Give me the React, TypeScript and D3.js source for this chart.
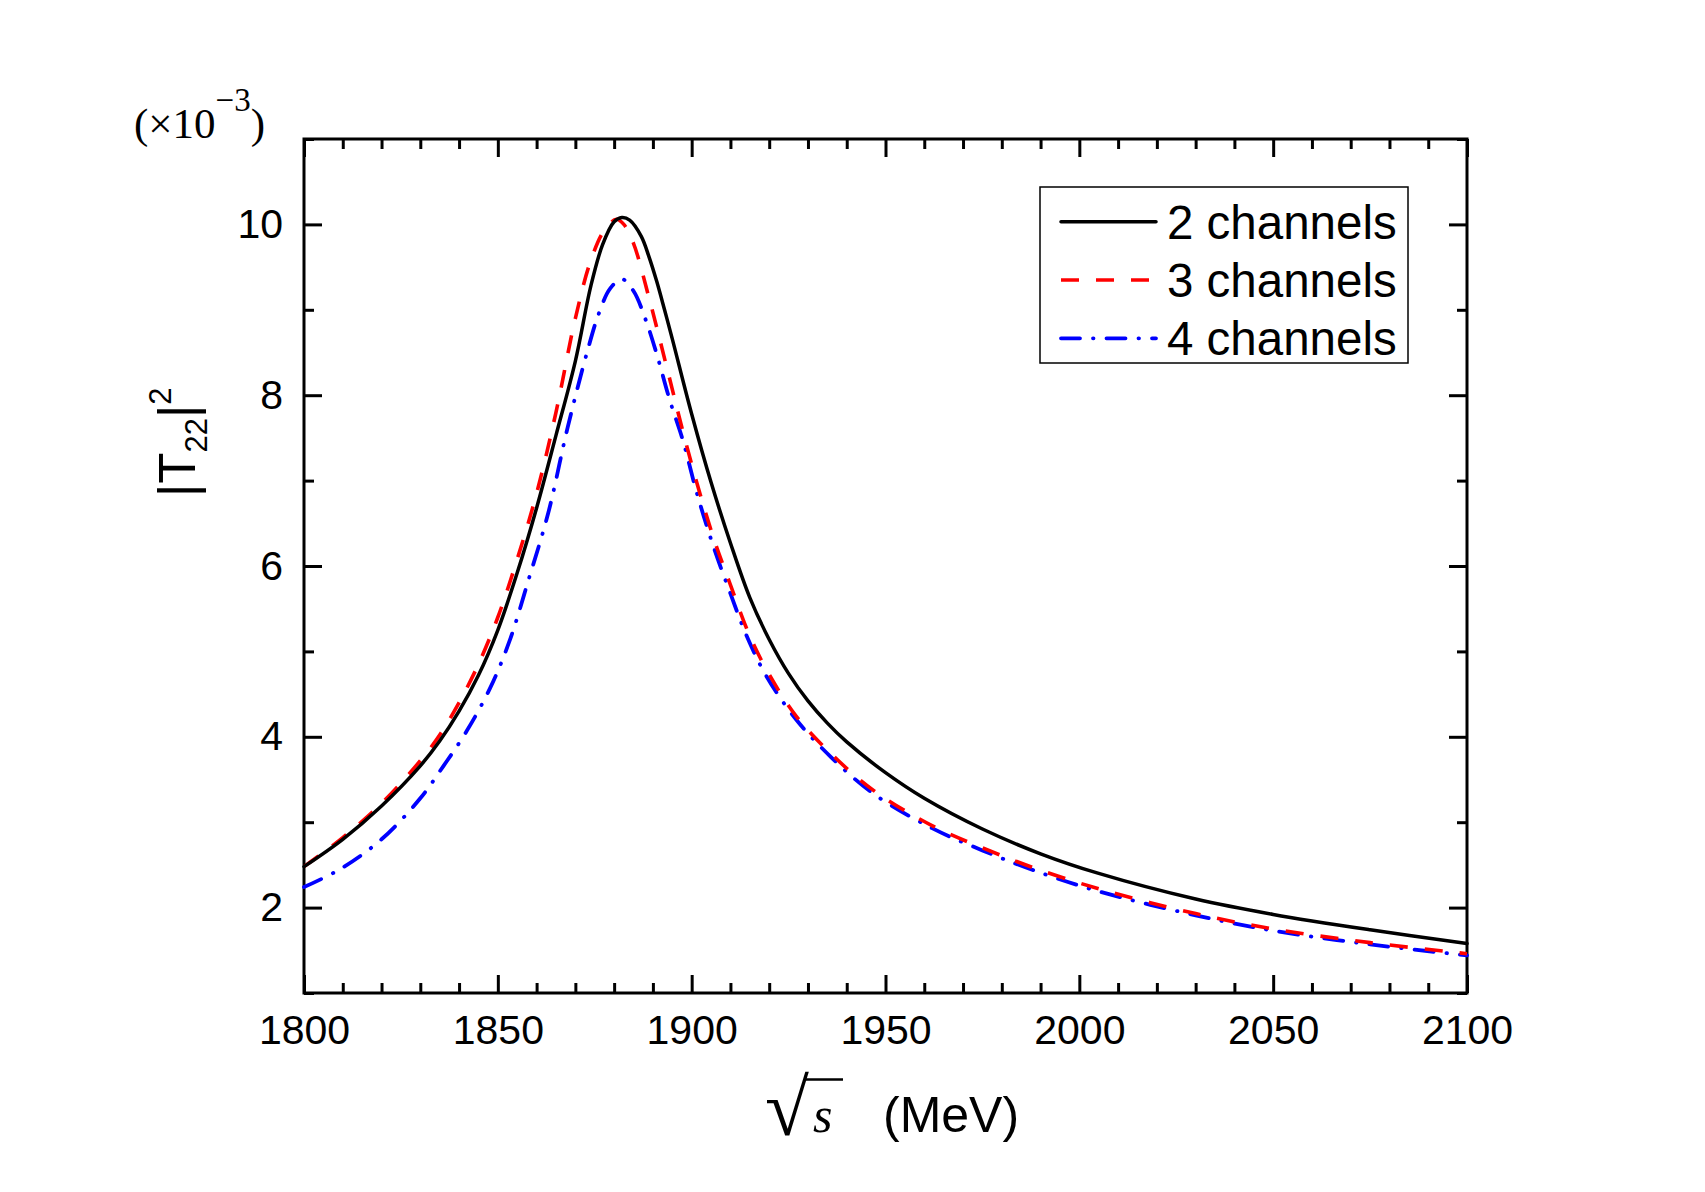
import * as d3 from 'd3';
import React, { useEffect, useRef } from 'react';

// sqrt(s) in MeV, |T22|^2 in units of 1e-3
const x2 = [1800, 1810, 1820, 1830, 1835, 1840, 1845, 1850, 1855, 1860, 1865, 1870, 1874, 1877, 1880, 1882, 1884, 1887, 1889, 1891, 1893, 1895, 1900, 1905, 1910, 1915, 1920, 1925, 1930, 1935, 1940, 1950, 1960, 1975, 1990, 2005, 2030, 2050, 2075, 2100];
const y2 = [2.48, 2.80, 3.19, 3.66, 3.95, 4.30, 4.72, 5.25, 5.92, 6.68, 7.53, 8.40, 9.28, 9.76, 10.03, 10.08, 10.05, 9.86, 9.62, 9.33, 9.00, 8.66, 7.78, 6.98, 6.27, 5.63, 5.14, 4.74, 4.42, 4.16, 3.94, 3.58, 3.28, 2.92, 2.63, 2.40, 2.10, 1.92, 1.74, 1.58];

const x3 = [1800, 1810, 1820, 1830, 1835, 1840, 1845, 1850, 1855, 1860, 1865, 1870, 1874, 1877.6, 1880.6, 1882.5, 1884.9, 1889, 1894, 1898, 1902, 1906, 1910, 1915, 1920, 1927, 1936, 1947, 1962, 1975, 1988, 2005, 2030, 2050, 2075, 2100];
const y3 = [2.48, 2.82, 3.22, 3.72, 4.02, 4.40, 4.85, 5.40, 6.08, 6.85, 7.80, 8.90, 9.58, 9.94, 10.06, 10.00, 9.79, 9.14, 8.25, 7.53, 6.87, 6.28, 5.78, 5.18, 4.73, 4.24, 3.80, 3.37, 2.96, 2.70, 2.47, 2.22, 1.93, 1.75, 1.59, 1.46];

const x4 = [1800, 1809.3, 1820, 1830, 1836, 1842, 1848, 1853, 1858, 1863, 1868, 1873, 1876, 1879, 1882, 1885, 1888, 1891, 1894.3, 1897.8, 1901.3, 1905.6, 1909.9, 1914.2, 1919.4, 1927, 1936, 1947, 1962, 1975, 1988, 2005, 2030, 2050, 2075, 2100];
const y4 = [2.24, 2.45, 2.80, 3.28, 3.66, 4.07, 4.57, 5.12, 5.85, 6.62, 7.62, 8.50, 8.95, 9.25, 9.36, 9.22, 8.90, 8.48, 7.95, 7.46, 6.86, 6.23, 5.69, 5.18, 4.70, 4.20, 3.76, 3.33, 2.93, 2.67, 2.44, 2.19, 1.91, 1.73, 1.57, 1.44];

const seriesNames = ['2 channels', '3 channels', '4 channels'];
const xMajor = [1800, 1850, 1900, 1950, 2000, 2050, 2100];
const yMajor = [2, 4, 6, 8, 10];

const App = () => {
    const svgRef = useRef(null);

    useEffect(() => {
        const svg = d3.select(svgRef.current);
        svg.selectAll('*').remove();

        const left = 304, right = 1467, top = 139, bottom = 993;
        const x = d3.scaleLinear().domain([1800, 2100]).range([left, right]);
        const y = d3.scaleLinear().domain([1, 11]).range([bottom, top]);
        const font = 'Liberation Sans, Arial, Helvetica, sans-serif';
        const serif = 'Liberation Serif, Times New Roman, serif';

        const xMinor = d3.range(1800, 2101, 10).filter(v => v % 50 !== 0);
        const yMinor = d3.range(1, 12, 2);

        const styleAxis = (g, labels) => {
            g.select('.domain').remove();
            g.selectAll('line').attr('stroke', '#000').attr('stroke-width', 3);
            g.selectAll('text').attr('font-family', font).attr('font-size', 41).attr('fill', '#000');
            if (!labels) g.selectAll('text').remove();
        };

        // bottom / top
        svg.append('g').attr('transform', `translate(0,${bottom})`)
            .call(d3.axisBottom(x).tickValues(xMajor).tickSize(-18).tickPadding(22).tickFormat(d3.format('d')))
            .call(g => styleAxis(g, true));
        svg.append('g').attr('transform', `translate(0,${bottom})`)
            .call(d3.axisBottom(x).tickValues(xMinor).tickSize(-10))
            .call(g => styleAxis(g, false));
        svg.append('g').attr('transform', `translate(0,${top})`)
            .call(d3.axisTop(x).tickValues(xMajor).tickSize(-18))
            .call(g => styleAxis(g, false));
        svg.append('g').attr('transform', `translate(0,${top})`)
            .call(d3.axisTop(x).tickValues(xMinor).tickSize(-10))
            .call(g => styleAxis(g, false));

        // left / right
        svg.append('g').attr('transform', `translate(${left},0)`)
            .call(d3.axisLeft(y).tickValues(yMajor).tickSize(-18).tickPadding(21))
            .call(g => styleAxis(g, true));
        svg.append('g').attr('transform', `translate(${left},0)`)
            .call(d3.axisLeft(y).tickValues(yMinor).tickSize(-10))
            .call(g => styleAxis(g, false));
        svg.append('g').attr('transform', `translate(${right},0)`)
            .call(d3.axisRight(y).tickValues(yMajor).tickSize(-18))
            .call(g => styleAxis(g, false));
        svg.append('g').attr('transform', `translate(${right},0)`)
            .call(d3.axisRight(y).tickValues(yMinor).tickSize(-10))
            .call(g => styleAxis(g, false));

        svg.append('rect')
            .attr('x', left).attr('y', top)
            .attr('width', right - left).attr('height', bottom - top)
            .attr('fill', 'none').attr('stroke', '#000').attr('stroke-width', 3);

        const line = d3.line()
            .x(d => x(d[0]))
            .y(d => y(d[1]))
            .curve(d3.curveCatmullRom.alpha(0.5));

        const styles = [
            { color: '#000000', dash: null, cap: 'round', width: 3.5 },
            { color: '#ff0000', dash: '18,17', cap: 'butt', width: 3.6 },
            { color: '#0000ff', dash: '19,13,0.5,13', cap: 'round', width: 3.8 },
        ];
        const series = [
            x2.map((v, i) => [v, y2[i]]),
            x3.map((v, i) => [v, y3[i]]),
            x4.map((v, i) => [v, y4[i]]),
        ];

        const plot = svg.append('g');
        [2, 1, 0].forEach(i => {
            plot.append('path')
                .attr('d', line(series[i]))
                .attr('fill', 'none')
                .attr('stroke', styles[i].color)
                .attr('stroke-width', styles[i].width)
                .attr('stroke-linecap', styles[i].cap)
                .attr('stroke-dasharray', styles[i].dash);
        });

        // legend
        const lg = svg.append('g');
        lg.append('rect')
            .attr('x', 1040).attr('y', 187)
            .attr('width', 368).attr('height', 176)
            .attr('fill', '#fff').attr('stroke', '#000').attr('stroke-width', 1.5);
        seriesNames.forEach((name, i) => {
            const ly = 221.7 + i * 58.3;
            lg.append('line')
                .attr('x1', 1061).attr('x2', 1156)
                .attr('y1', ly).attr('y2', ly)
                .attr('stroke', styles[i].color)
                .attr('stroke-width', styles[i].width)
                .attr('stroke-linecap', styles[i].cap)
                .attr('stroke-dasharray', styles[i].dash);
            lg.append('text')
                .attr('x', 1167).attr('y', ly + 17)
                .attr('font-family', font).attr('font-size', 47.5)
                .text(name);
        });

        // multiplier label
        const mult = svg.append('text')
            .attr('x', 134).attr('y', 138)
            .attr('font-family', serif).attr('font-size', 43);
        mult.append('tspan').text('(×10');
        mult.append('tspan').attr('font-size', 33).attr('dy', -27).text('−3');
        mult.append('tspan').attr('dy', 27).text(')');

        // y title
        const yt = svg.append('text')
            .attr('transform', 'translate(195,497) rotate(-90)')
            .attr('font-family', font).attr('font-size', 51);
        yt.append('tspan').text('|T');
        yt.append('tspan').attr('font-size', 31).attr('dy', 12).text('22');
        yt.append('tspan').attr('dy', -12).text('|');
        yt.append('tspan').attr('font-size', 31).attr('dy', -24).text('2');

        // x title
        svg.append('text')
            .attr('x', 765).attr('y', 1135)
            .attr('font-family', serif).attr('font-size', 80)
            .text('√');
        svg.append('line')
            .attr('x1', 804).attr('x2', 843)
            .attr('y1', 1079.5).attr('y2', 1079.5)
            .attr('stroke', '#000').attr('stroke-width', 2.5);
        svg.append('text')
            .attr('x', 813).attr('y', 1132)
            .attr('font-family', serif).attr('font-style', 'italic').attr('font-size', 50)
            .text('s');
        svg.append('text')
            .attr('x', 883).attr('y', 1132)
            .attr('font-family', font).attr('font-size', 50)
            .text('(MeV)');
    }, []);

    return (
        <svg ref={svgRef} width={1705} height={1192}
            style={{ position: 'absolute', left: 0, top: 0, background: '#fff' }}></svg>
    );
};

export default App;
